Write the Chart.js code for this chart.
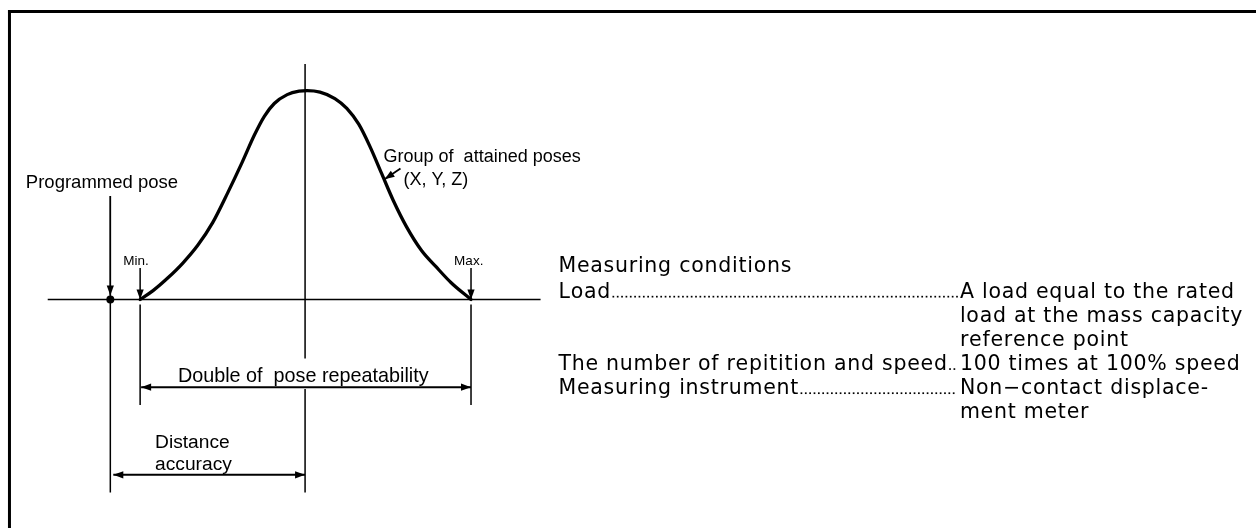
<!DOCTYPE html>
<html>
<head>
<meta charset="utf-8">
<script src="https://cdn.jsdelivr.net/npm/chart.js@4/dist/chart.umd.min.js"></script>
<style>
  html, body { margin: 0; padding: 0; background: #fff; }
  #wrap { width: 1260px; height: 532px; }
</style>
</head>
<body>
<div id="wrap"><canvas id="c" width="1260" height="532"></canvas></div>
<script>
// ---- Diagram data (drawing units: x 0..1260, y 0..532 downward) ----
// Distribution curve of the group of attained poses
const curveX = [137, 150, 165, 180, 195, 210, 225, 240, 252, 262, 272, 285, 297, 305, 318, 333, 345, 357, 368, 380, 392, 405, 420, 435, 450, 470];
const curveY = [300, 291, 278, 263, 245, 222, 192, 160, 133, 114, 101, 92, 88.5, 88, 89.5, 96, 106, 122, 144, 172, 200, 226, 250, 267, 283, 300];

// Key positions along the measuring axis
const baselineLevel = 300;
const programmedPos = 107;
const minPos = 137;
const maxPos = 470;
const meanPos = 303;

// Dimension line levels
const repeatabilityLevel = 389;
const accuracyLevel = 478;

// Text labels
const diagramLabels = ["Programmed pose", "Min.", "Max.", "Group of  attained poses", "(X, Y, Z)",
                       "Double of  pose repeatability", "Distance", "accuracy"];
const conditionsTitle = "Measuring conditions";
const conditionItems = ["Load", "The number of repitition and speed", "Measuring instrument"];
const conditionValues = [
  ["A load equal to the rated", "load at the mass capacity", "reference point"],
  ["100 times at 100% speed"],
  ["Non\u2212contact displace-", "ment meter"]
];

// ---- helpers to build datasets ----
function seg(x1, y1, x2, y2) { return [{x: x1, y: y1}, {x: x2, y: y2}]; }
function lineDs(data, extra) {
  return Object.assign({
    type: 'line', data: data, borderColor: '#000', backgroundColor: '#000',
    borderWidth: 1.5, pointRadius: 0, fill: false, tension: 0, spanGaps: false,
    borderCapStyle: 'butt'
  }, extra || {});
}

const curveData = curveX.map((x, i) => ({x: x, y: curveY[i]}));

const datasets = [
  // frame (top and left edges)
  lineDs(seg(4, 7.5, 1260, 7.5), {borderWidth: 3}),
  lineDs(seg(5.5, 6, 5.5, 532), {borderWidth: 3}),
  // baseline
  lineDs(seg(44, baselineLevel, 540, baselineLevel)),
  // mean (centre) line with a gap for the label
  lineDs([{x: meanPos, y: 61}, {x: meanPos, y: 360}, {x: meanPos, y: null}, {x: meanPos, y: 391}, {x: meanPos, y: 496}]),
  // programmed pose line
  lineDs(seg(programmedPos, 195, programmedPos, 496)),
  lineDs(seg(programmedPos, 195, programmedPos, baselineLevel - 4), {arrowEnd: true}),
  // min
  lineDs(seg(minPos, 268, minPos, baselineLevel), {arrowEnd: true}),
  lineDs(seg(minPos, 305, minPos, 407)),
  // max
  lineDs(seg(maxPos, 268, maxPos, baselineLevel), {arrowEnd: true}),
  lineDs(seg(maxPos, 305, maxPos, 407)),
  // double of pose repeatability
  lineDs(seg(minPos + 1, repeatabilityLevel, maxPos, repeatabilityLevel), {arrowStart: true, arrowEnd: true, borderWidth: 2}),
  // distance accuracy
  lineDs(seg(programmedPos + 3, accuracyLevel, meanPos, accuracyLevel), {arrowStart: true, arrowEnd: true, borderWidth: 2}),
  // pointer to the curve
  lineDs(seg(399, 167, 383, 178), {arrowEnd: true, borderWidth: 1.8}),
  // distribution curve
  lineDs(curveData, {borderWidth: 3.3, cubicInterpolationMode: 'monotone', borderCapStyle: 'round', borderJoinStyle: 'round'}),
  // programmed pose dot
  {type: 'scatter', data: [{x: programmedPos, y: baselineLevel}], pointRadius: 4, pointBackgroundColor: '#000',
   pointBorderColor: '#000', pointBorderWidth: 0, showLine: false}
];

// ---- arrowheads plugin ----
const arrowPlugin = {
  id: 'arrows',
  afterDatasetsDraw(chart) {
    const ctx = chart.ctx;
    const xs = chart.scales.x, ys = chart.scales.y;
    chart.data.datasets.forEach(ds => {
      if (!ds.arrowEnd && !ds.arrowStart) return;
      const pts = ds.data.map(p => ({x: xs.getPixelForValue(p.x), y: ys.getPixelForValue(p.y)}));
      const draw = (tip, from) => {
        const a = Math.atan2(tip.y - from.y, tip.x - from.x);
        const L = 10, Wd = 3.6;
        ctx.save();
        ctx.fillStyle = '#000';
        ctx.beginPath();
        ctx.moveTo(tip.x, tip.y);
        ctx.lineTo(tip.x - L * Math.cos(a) + Wd * Math.sin(a), tip.y - L * Math.sin(a) - Wd * Math.cos(a));
        ctx.lineTo(tip.x - L * Math.cos(a) - Wd * Math.sin(a), tip.y - L * Math.sin(a) + Wd * Math.cos(a));
        ctx.closePath();
        ctx.fill();
        ctx.restore();
      };
      if (ds.arrowEnd) draw(pts[pts.length - 1], pts[0]);
      if (ds.arrowStart) draw(pts[0], pts[pts.length - 1]);
    });
  }
};

// ---- text plugin ----
const FONT_DIAGRAM = '"Liberation Sans", Arial, sans-serif';
const FONT_TABLE = '"DejaVu Sans", "Liberation Sans", sans-serif';
function drawText(ctx, str, x, y, size, ls, family) {
  ctx.font = size + 'px ' + (family || FONT_DIAGRAM);
  ctx.textBaseline = 'alphabetic';
  ctx.textAlign = 'left';
  if (!ls) { ctx.fillText(str, x, y); return ctx.measureText(str).width; }
  let cx = x;
  for (const ch of str) {
    ctx.fillText(ch, cx, y);
    cx += ctx.measureText(ch).width + ls;
  }
  return cx - x;
}

const textPlugin = {
  id: 'texts',
  afterDatasetsDraw(chart) {
    const ctx = chart.ctx;
    const X = v => chart.scales.x.getPixelForValue(v);
    const Y = v => chart.scales.y.getPixelForValue(v);
    ctx.save();
    ctx.fillStyle = '#000';
    const placed = [
      [diagramLabels[0], 22, 187, 18.5],
      [diagramLabels[1], 120, 265, 13.5],
      [diagramLabels[2], 453, 265, 13.5],
      [diagramLabels[3], 382, 160, 18],
      [diagramLabels[4], 402, 184, 18],
      [diagramLabels[5], 175, 384, 19.8],
      [diagramLabels[6], 152, 451, 19.2],
      [diagramLabels[7], 152, 473, 19.2]
    ];
    placed.forEach(t => drawText(ctx, t[0], X(t[1]), Y(t[2]), t[3], 0));

    // measuring conditions block
    const colX = 558, valX = 962, lineH = 24.5, size = 20.5, ls = 0.75;
    drawText(ctx, conditionsTitle, X(colX), Y(272), size, ls, FONT_TABLE);
    let row = 298;
    conditionItems.forEach((item, i) => {
      const w = drawText(ctx, item, X(colX), Y(row), size, ls, FONT_TABLE);
      // dot leader
      let dx = X(colX) + w + 1.5;
      while (dx < X(valX) - 3) {
        ctx.fillRect(dx, Y(row) - 1.7, 1.7, 1.7);
        dx += 4.35;
      }
      conditionValues[i].forEach((v, j) => {
        drawText(ctx, v, X(valX), Y(row + j * lineH), size, ls, FONT_TABLE);
      });
      row += conditionValues[i].length * lineH;
    });
    ctx.restore();
  }
};

new Chart(document.getElementById('c'), {
  type: 'line',
  data: { datasets: datasets },
  options: {
    responsive: false,
    animation: false,
    events: [],
    layout: { padding: 0 },
    plugins: { legend: { display: false }, tooltip: { enabled: false } },
    scales: {
      x: { type: 'linear', min: 0, max: 1260, display: false },
      y: { type: 'linear', min: 0, max: 532, reverse: true, display: false }
    }
  },
  plugins: [arrowPlugin, textPlugin]
});
</script>
</body>
</html>
